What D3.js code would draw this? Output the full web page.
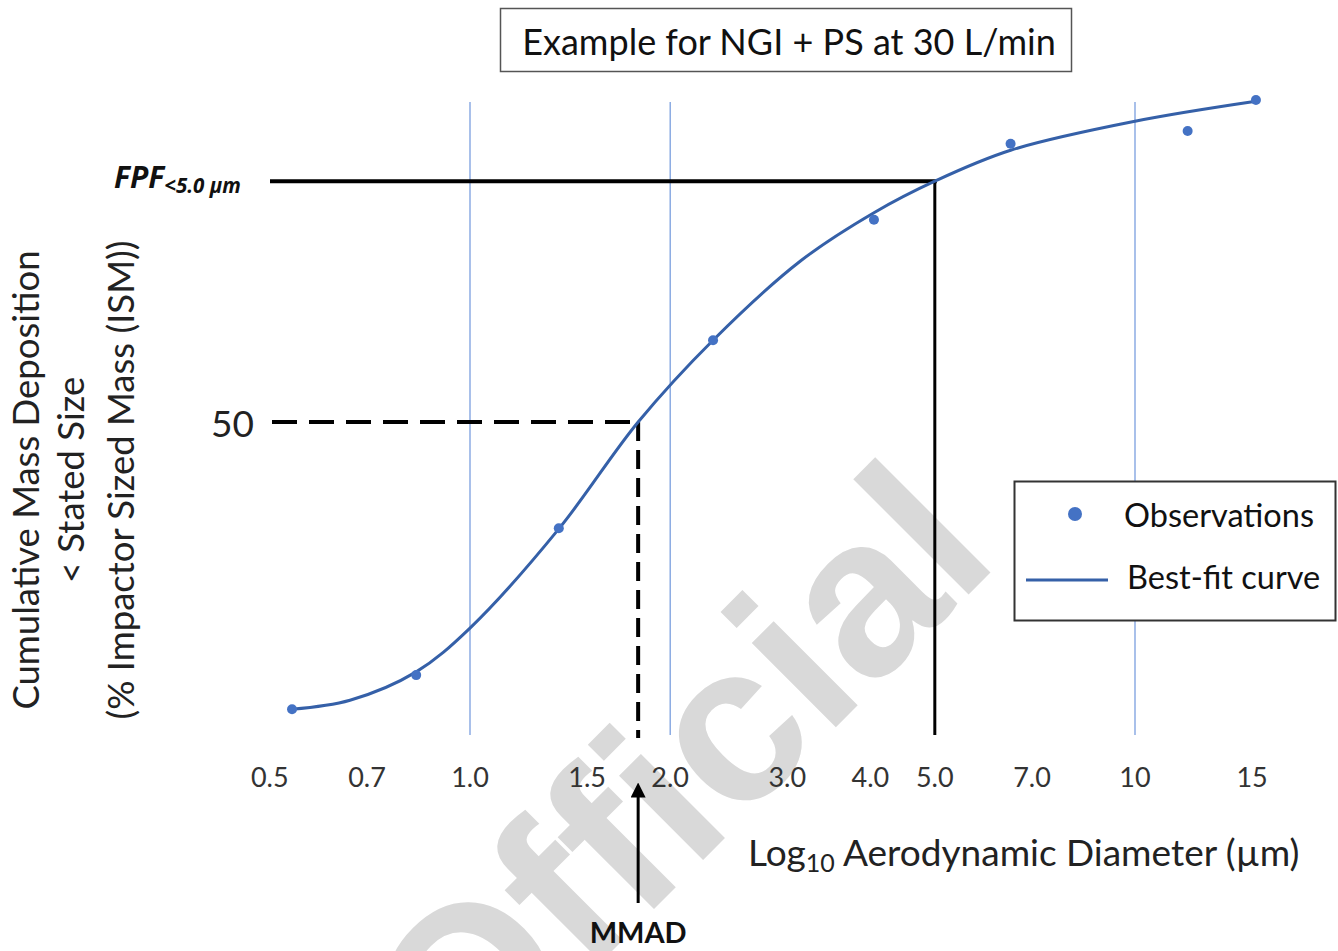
<!DOCTYPE html>
<html>
<head>
<meta charset="utf-8">
<script src="https://cdn.jsdelivr.net/npm/d3@7"></script>
<style>
  html, body { margin: 0; padding: 0; background: #ffffff; }
  svg { display: block; }
</style>
</head>
<body>
<svg id="chart" width="1338" height="951"></svg>
<script>
// ---------- data ----------
const titleText = "Example for NGI + PS at 30 L/min";
const tickValues = [0.5, 0.7, 1.0, 1.5, 2.0, 3.0, 4.0, 5.0, 7.0, 10, 15];
const tickLabels = ["0.5", "0.7", "1.0", "1.5", "2.0", "3.0", "4.0", "5.0", "7.0", "10", "15"];
const gridValues = [1.0, 2.0, 10];
// observations: aerodynamic diameter (µm), cumulative % < stated size
const obsDiameter = [0.54, 0.83, 1.36, 2.32, 4.05, 6.5, 12.0, 15.2];
const obsPercent  = [5.4, 10.7, 33.5, 62.7, 81.4, 93.2, 95.2, 100.0];
// best-fit curve
const fitDiameter = [0.54, 0.66, 0.83, 1.0, 1.36, 1.79, 2.32, 3.14, 4.05, 5.0, 6.5, 10, 15.2];
const fitPercent  = [5.4, 6.8, 11.2, 18.0, 33.4, 50.0, 62.7, 75.0, 82.5, 87.4, 92.2, 96.7, 99.8];
const mmad = 1.79;
const mmadPercent = 50;
const fpfCut = 5.0;
const fpfPercent = 87.4;
const yLabelLines = ["Cumulative Mass Deposition", "< Stated Size", "(% Impactor Sized Mass (ISM))"];
const legendLabels = ["Observations", "Best-fit curve"];
const watermark = "Official";

// ---------- scales ----------
const x = d3.scaleLog().domain([1, 10]).range([470, 1135]);
const y = d3.scaleLinear().domain([0, 100]).range([744, 100]);

const svg = d3.select("#chart");
const font = "Lato, 'Open Sans', sans-serif";

// watermark (behind everything)
svg.append("text")
  .attr("transform", "translate(732,831) rotate(-45)")
  .attr("text-anchor", "middle")
  .attr("font-family", "'Liberation Sans', Arial, sans-serif")
  .attr("font-weight", "bold")
  .attr("font-size", 225)
  .attr("fill", "#d9d9d9")
  .text(watermark);

// title box
const tg = svg.append("g");
tg.append("rect").attr("x", 500.5).attr("y", 8.5).attr("width", 571).attr("height", 63)
  .attr("fill", "none").attr("stroke", "#555").attr("stroke-width", 1.5);
tg.append("text").attr("x", 789).attr("y", 41).attr("text-anchor", "middle")
  .attr("dominant-baseline", "central")
  .attr("font-family", font).attr("font-size", 36).attr("fill", "#111")
  .text(titleText);

// vertical gridlines
svg.append("g").selectAll("line").data(gridValues).join("line")
  .attr("x1", d => x(d)).attr("x2", d => x(d))
  .attr("y1", 102).attr("y2", 735)
  .attr("stroke", "#6f96dc").attr("stroke-width", 1.2);

// x tick labels
svg.append("g").selectAll("text").data(tickValues).join("text")
  .attr("x", d => x(d)).attr("y", 776)
  .attr("text-anchor", "middle").attr("dominant-baseline", "central")
  .attr("font-family", font).attr("font-size", 27).attr("fill", "#333")
  .text((d, i) => tickLabels[i]);

// FPF guides
svg.append("line")
  .attr("x1", 270).attr("x2", x(fpfCut) + 2)
  .attr("y1", y(fpfPercent)).attr("y2", y(fpfPercent))
  .attr("stroke", "#000").attr("stroke-width", 4);
svg.append("line")
  .attr("x1", x(fpfCut)).attr("x2", x(fpfCut))
  .attr("y1", y(fpfPercent)).attr("y2", 735)
  .attr("stroke", "#000").attr("stroke-width", 3);

// MMAD guides (dashed)
svg.append("line")
  .attr("x1", 272).attr("x2", x(mmad))
  .attr("y1", y(mmadPercent)).attr("y2", y(mmadPercent))
  .attr("stroke", "#000").attr("stroke-width", 4).attr("stroke-dasharray", "25,12");
svg.append("line")
  .attr("x1", x(mmad)).attr("x2", x(mmad))
  .attr("y1", y(mmadPercent)).attr("y2", 738)
  .attr("stroke", "#000").attr("stroke-width", 4).attr("stroke-dasharray", "19,9");

// best-fit curve
const fitData = fitDiameter.map((d, i) => [d, fitPercent[i]]);
svg.append("path").datum(fitData)
  .attr("fill", "none").attr("stroke", "#3560a8").attr("stroke-width", 3)
  .attr("d", d3.line().x(d => x(d[0])).y(d => y(d[1])).curve(d3.curveCatmullRom.alpha(0.5)));

// observations
svg.append("g").selectAll("circle").data(obsDiameter).join("circle")
  .attr("cx", d => x(d)).attr("cy", (d, i) => y(obsPercent[i]))
  .attr("r", 5).attr("fill", "#4472c4");

// y "50" label
svg.append("text").attr("x", 254).attr("y", y(50)).attr("text-anchor", "end")
  .attr("dominant-baseline", "central")
  .attr("font-family", font).attr("font-size", 37).attr("fill", "#222").text("50");

// FPF label
const fpf = svg.append("text").attr("x", 114).attr("y", 188)
  .attr("font-family", "'Open Sans', sans-serif").attr("font-weight", "bold")
  .attr("font-style", "italic").attr("fill", "#111");
fpf.append("tspan").attr("font-size", 30).text("FPF");
fpf.append("tspan").attr("font-size", 20.5).attr("dy", 5).text("<5.0 µm");

// MMAD arrow
const defs = svg.append("defs");
defs.append("marker").attr("id", "arrow").attr("viewBox", "0 0 10 10")
  .attr("refX", 5).attr("refY", 5).attr("markerWidth", 5).attr("markerHeight", 5)
  .attr("orient", "auto")
  .append("path").attr("d", "M0,0 L10,5 L0,10 z").attr("fill", "#000");
svg.append("line")
  .attr("x1", x(mmad)).attr("x2", x(mmad)).attr("y1", 903).attr("y2", 790)
  .attr("stroke", "#000").attr("stroke-width", 3).attr("marker-end", "url(#arrow)");
svg.append("text").attr("x", x(mmad)).attr("y", 931).attr("text-anchor", "middle")
  .attr("dominant-baseline", "central")
  .attr("font-family", font).attr("font-weight", "bold").attr("font-size", 29).attr("fill", "#111")
  .text("MMAD");

// y axis title
const yl = svg.append("g");
[25, 70, 120].forEach((cx, i) => {
  yl.append("text").attr("transform", `translate(${cx},480) rotate(-90)`)
    .attr("text-anchor", "middle").attr("dominant-baseline", "central")
    .attr("font-family", font).attr("font-size", 36.5).attr("fill", "#222")
    .text(yLabelLines[i]);
});

// x axis title
const xt = svg.append("text").attr("x", 748).attr("y", 866)
  .attr("font-family", font).attr("font-size", 37).attr("fill", "#222");
xt.append("tspan").text("Log");
xt.append("tspan").attr("font-size", 25).attr("dy", 6).text("10");
xt.append("tspan").attr("dy", -6).text(" Aerodynamic Diameter (µm)");

// legend
const lg = svg.append("g");
lg.append("rect").attr("x", 1014.5).attr("y", 481.5).attr("width", 321).attr("height", 139)
  .attr("fill", "#fff").attr("stroke", "#333").attr("stroke-width", 2);
lg.append("circle").attr("cx", 1075).attr("cy", 514).attr("r", 7).attr("fill", "#4472c4");
lg.append("line").attr("x1", 1026).attr("x2", 1108).attr("y1", 580).attr("y2", 580)
  .attr("stroke", "#3560a8").attr("stroke-width", 3);
lg.append("text").attr("x", 1124).attr("y", 514).attr("dominant-baseline", "central")
  .attr("font-family", font).attr("font-size", 32.5).attr("fill", "#111").text(legendLabels[0]);
lg.append("text").attr("x", 1127).attr("y", 576).attr("dominant-baseline", "central")
  .attr("font-family", font).attr("font-size", 32.5).attr("fill", "#111").text(legendLabels[1]);
</script>
</body>
</html>
